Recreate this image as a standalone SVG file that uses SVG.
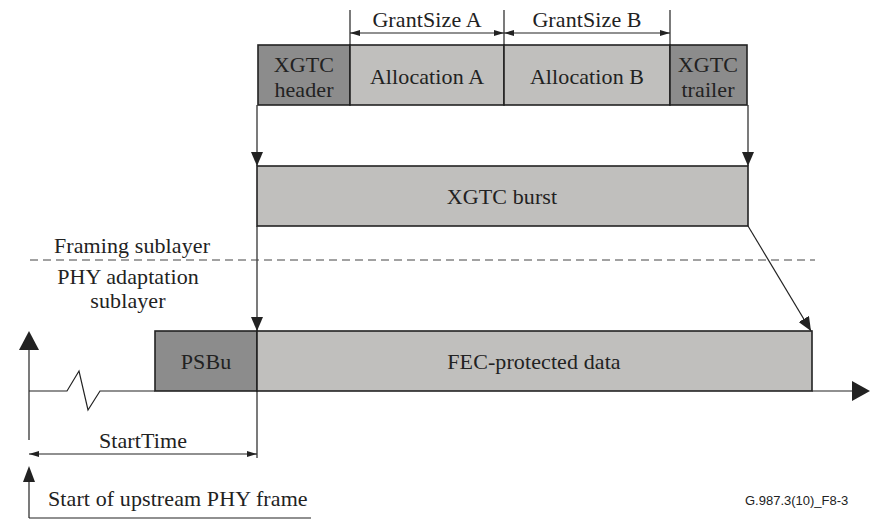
<svg xmlns="http://www.w3.org/2000/svg" width="879" height="520" viewBox="0 0 879 520">
<style>
.t{font-family:'Liberation Serif','DejaVu Serif',serif;font-size:22px;letter-spacing:0.1px;fill:#222;text-anchor:middle}
.dk{fill:#8c8c8c;stroke:#222;stroke-width:1.6}
.lt{fill:#c0bfbd;stroke:#222;stroke-width:1.6}
.ln{stroke:#222;stroke-width:1.2;fill:none}
.ah{fill:#222}
</style>
<defs>
<marker id="dim" viewBox="0 0 10 6" refX="10" refY="3" markerWidth="10" markerHeight="6" markerUnits="userSpaceOnUse" orient="auto-start-reverse"><path d="M0,0 L10,3 L0,6 Z" fill="#222"/></marker>
<marker id="arr" viewBox="0 0 14 12" refX="14" refY="6" markerWidth="14" markerHeight="12" markerUnits="userSpaceOnUse" orient="auto"><path d="M0,0 L14,6 L0,12 Z" fill="#222"/></marker>
</defs>
<g id="header"><rect class="dk" x="258" y="45" width="92" height="60"/><text class="t" x="304" y="72">XGTC</text><text class="t" x="304" y="97">header</text></g>
<g id="allocA"><rect class="lt" x="350" y="45" width="154" height="60"/><text class="t" x="427" y="84">Allocation A</text></g>
<g id="allocB"><rect class="lt" x="504" y="45" width="166" height="60"/><text class="t" x="587" y="84">Allocation B</text></g>
<g id="trailer"><rect class="dk" x="670" y="45" width="77" height="60"/><text class="t" x="708" y="72">XGTC</text><text class="t" x="708" y="97">trailer</text></g>
<g id="burst"><rect class="lt" x="257" y="166" width="491" height="60"/><text class="t" x="502" y="204">XGTC burst</text></g>
<g id="psbu"><rect class="dk" x="155" y="331" width="102" height="60"/><text class="t" x="206" y="369">PSBu</text></g>
<g id="fec"><rect class="lt" x="257" y="331" width="555" height="60"/><text class="t" x="534" y="369">FEC-protected data</text></g>
<g id="labels">
<text class="t" x="427" y="27">GrantSize A</text>
<text class="t" x="587" y="27">GrantSize B</text>
<text class="t" x="132" y="253">Framing sublayer</text>
<text class="t" x="128" y="284">PHY adaptation</text>
<text class="t" x="128" y="308">sublayer</text>
<text class="t" x="143" y="448">StartTime</text>
<text class="t" x="48" y="506" style="text-anchor:start">Start of upstream PHY frame</text>
<text x="745" y="505" font-family="'Liberation Sans', Arial, sans-serif" font-size="13" fill="#222">G.987.3(10)_F8-3</text>
</g>
<g id="connectors">
<line class="ln" x1="350" y1="10" x2="350" y2="45"/>
<line class="ln" x1="504" y1="10" x2="504" y2="45"/>
<line class="ln" x1="670" y1="10" x2="670" y2="45"/>
<line class="ln" x1="350" y1="33" x2="504" y2="33" marker-start="url(#dim)" marker-end="url(#dim)"/>
<line class="ln" x1="504" y1="33" x2="670" y2="33" marker-start="url(#dim)" marker-end="url(#dim)"/>
<line class="ln" x1="257" y1="105" x2="257" y2="166" marker-end="url(#arr)"/>
<line class="ln" x1="748" y1="105" x2="748" y2="166" marker-end="url(#arr)"/>
<line class="ln" x1="257" y1="226" x2="257" y2="331" marker-end="url(#arr)"/>
<line class="ln" x1="748" y1="226" x2="811" y2="331" marker-end="url(#arr)"/>
<line class="ln" x1="257" y1="391" x2="257" y2="458"/>
<line x1="30" y1="260" x2="815" y2="260" stroke="#444" stroke-width="1" stroke-dasharray="8,5"/>
<polyline class="ln" points="29,391 67,391 79,371 88,410 100,391 155,391"/>
<line class="ln" x1="812" y1="391" x2="853" y2="391"/>
<path class="ah" d="M852,381 L870,391 L852,401 Z"/>
<line class="ln" x1="29" y1="348" x2="29" y2="440"/>
<path class="ah" d="M19,350 L29,331 L39,350 Z"/>
<line class="ln" x1="29" y1="454" x2="257" y2="454" marker-start="url(#dim)" marker-end="url(#dim)"/>
<line class="ln" x1="29" y1="480" x2="29" y2="518"/>
<path class="ah" d="M23,482 L29,466 L35,482 Z"/>
<line class="ln" x1="29" y1="518" x2="311" y2="518"/>
</g>
</svg>
